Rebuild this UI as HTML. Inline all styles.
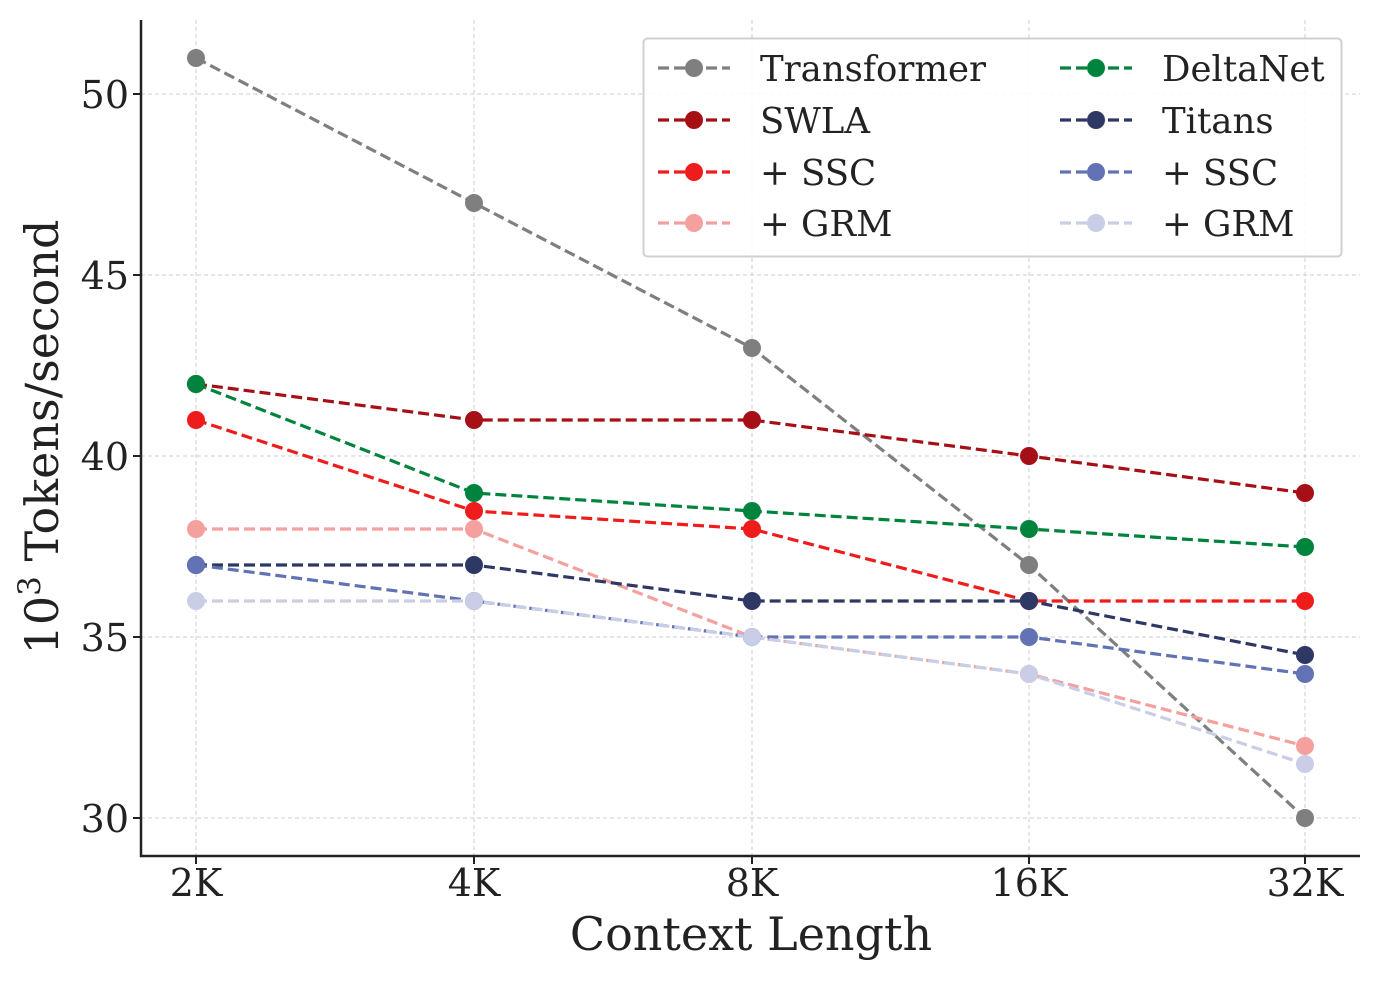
<!DOCTYPE html>
<html><head><meta charset="utf-8"><style>
body{margin:0;background:#fff}
text{font-family:"DejaVu Serif","Liberation Serif",serif;fill:#222}
</style></head><body>
<svg width="1380" height="980" xmlns="http://www.w3.org/2000/svg">
<g stroke="#cccccc" stroke-width="1" stroke-dasharray="4,3">
<line x1="196" y1="20" x2="196" y2="856"/><line x1="474" y1="20" x2="474" y2="856"/><line x1="752" y1="20" x2="752" y2="856"/><line x1="1029" y1="20" x2="1029" y2="856"/><line x1="1305" y1="20" x2="1305" y2="856"/>
<line x1="141" y1="94" x2="1360" y2="94"/><line x1="141" y1="275" x2="1360" y2="275"/><line x1="141" y1="456" x2="1360" y2="456"/><line x1="141" y1="637" x2="1360" y2="637"/><line x1="141" y1="818" x2="1360" y2="818"/>
</g>
<g fill="none" stroke-width="3.2" stroke-dasharray="11,5">
<polyline stroke="#7f7f7f" points="196,58 474,203 752,348 1029,565 1305,818"/>
<polyline stroke="#a50f15" points="196,384 474,420 752,420 1029,456 1305,493"/>
<polyline stroke="#ef1c1c" points="196,420 474,511 752,529 1029,601 1305,601"/>
<polyline stroke="#f4a09f" points="196,529 474,529 752,637 1029,674 1305,746"/>
<polyline stroke="#00843d" points="196,384 474,493 752,511 1029,529 1305,547"/>
<polyline stroke="#2e3865" points="196,565 474,565 752,601 1029,601 1305,655"/>
<polyline stroke="#6272b5" points="196,565 474,601 752,637 1029,637 1305,674"/>
<polyline stroke="#c9cde6" points="196,601 474,601 752,637 1029,674 1305,764"/>
</g>
<g>
<g fill="#7f7f7f"><circle cx="196" cy="58" r="9"/><circle cx="474" cy="203" r="9"/><circle cx="752" cy="348" r="9"/><circle cx="1029" cy="565" r="9"/><circle cx="1305" cy="818" r="9"/></g>
<g fill="#a50f15"><circle cx="196" cy="384" r="9"/><circle cx="474" cy="420" r="9"/><circle cx="752" cy="420" r="9"/><circle cx="1029" cy="456" r="9"/><circle cx="1305" cy="493" r="9"/></g>
<g fill="#ef1c1c"><circle cx="196" cy="420" r="9"/><circle cx="474" cy="511" r="9"/><circle cx="752" cy="529" r="9"/><circle cx="1029" cy="601" r="9"/><circle cx="1305" cy="601" r="9"/></g>
<g fill="#f4a09f"><circle cx="196" cy="529" r="9"/><circle cx="474" cy="529" r="9"/><circle cx="752" cy="637" r="9"/><circle cx="1029" cy="674" r="9"/><circle cx="1305" cy="746" r="9"/></g>
<g fill="#00843d"><circle cx="196" cy="384" r="9"/><circle cx="474" cy="493" r="9"/><circle cx="752" cy="511" r="9"/><circle cx="1029" cy="529" r="9"/><circle cx="1305" cy="547" r="9"/></g>
<g fill="#2e3865"><circle cx="196" cy="565" r="9"/><circle cx="474" cy="565" r="9"/><circle cx="752" cy="601" r="9"/><circle cx="1029" cy="601" r="9"/><circle cx="1305" cy="655" r="9"/></g>
<g fill="#6272b5"><circle cx="196" cy="565" r="9"/><circle cx="474" cy="601" r="9"/><circle cx="752" cy="637" r="9"/><circle cx="1029" cy="637" r="9"/><circle cx="1305" cy="674" r="9"/></g>
<g fill="#c9cde6"><circle cx="196" cy="601" r="9"/><circle cx="474" cy="601" r="9"/><circle cx="752" cy="637" r="9"/><circle cx="1029" cy="674" r="9"/><circle cx="1305" cy="764" r="9"/></g>
</g>
<g stroke="#222" stroke-width="2.5">
<line x1="141" y1="20" x2="141" y2="857"/><line x1="140" y1="856" x2="1360" y2="856"/>
</g>
<g stroke="#222" stroke-width="2">
<line x1="133" y1="94" x2="141" y2="94"/><line x1="133" y1="275" x2="141" y2="275"/><line x1="133" y1="456" x2="141" y2="456"/><line x1="133" y1="637" x2="141" y2="637"/><line x1="133" y1="818" x2="141" y2="818"/>
<line x1="196" y1="856" x2="196" y2="864"/><line x1="474" y1="856" x2="474" y2="864"/><line x1="752" y1="856" x2="752" y2="864"/><line x1="1029" y1="856" x2="1029" y2="864"/><line x1="1305" y1="856" x2="1305" y2="864"/>
</g>
<g font-size="38" text-anchor="end">
<text x="129" y="108">50</text><text x="129" y="289">45</text><text x="129" y="470">40</text><text x="129" y="651">35</text><text x="129" y="832">30</text>
</g>
<g font-size="38" text-anchor="middle">
<text x="196" y="896">2K</text><text x="474" y="896">4K</text><text x="752" y="896">8K</text><text x="1029" y="896">16K</text><text x="1305" y="896">32K</text>
</g>
<text x="751" y="950" font-size="46" text-anchor="middle">Context Length</text>
<text transform="translate(58,437) rotate(-90)" font-size="46" text-anchor="middle">10<tspan font-size="31" dy="-18">3</tspan><tspan dy="18"> Tokens/second</tspan></text>
<rect x="643.5" y="38.5" width="698" height="218" rx="4" fill="#fff" fill-opacity="0.85" stroke="#d0d0d0" stroke-width="2"/>
<g fill="none" stroke-width="3.2" stroke-dasharray="11,5">
<line x1="658" y1="68" x2="730" y2="68" stroke="#7f7f7f"/>
<line x1="658" y1="120" x2="730" y2="120" stroke="#a50f15"/>
<line x1="658" y1="172" x2="730" y2="172" stroke="#ef1c1c"/>
<line x1="658" y1="223" x2="730" y2="223" stroke="#f4a09f"/>
<line x1="1060" y1="68" x2="1132" y2="68" stroke="#00843d"/>
<line x1="1060" y1="120" x2="1132" y2="120" stroke="#2e3865"/>
<line x1="1060" y1="172" x2="1132" y2="172" stroke="#6272b5"/>
<line x1="1060" y1="223" x2="1132" y2="223" stroke="#c9cde6"/>
</g>
<circle cx="694" cy="68" r="9" fill="#7f7f7f"/><circle cx="694" cy="120" r="9" fill="#a50f15"/><circle cx="694" cy="172" r="9" fill="#ef1c1c"/><circle cx="694" cy="223" r="9" fill="#f4a09f"/>
<circle cx="1096" cy="68" r="9" fill="#00843d"/><circle cx="1096" cy="120" r="9" fill="#2e3865"/><circle cx="1096" cy="172" r="9" fill="#6272b5"/><circle cx="1096" cy="223" r="9" fill="#c9cde6"/>
<g font-size="35.5">
<text x="760" y="81">Transformer</text><text x="760" y="133">SWLA</text><text x="760" y="185">+ SSC</text><text x="760" y="236">+ GRM</text>
<text x="1162" y="81">DeltaNet</text><text x="1162" y="133">Titans</text><text x="1162" y="185">+ SSC</text><text x="1162" y="236">+ GRM</text>
</g>
</svg>
</body></html>
